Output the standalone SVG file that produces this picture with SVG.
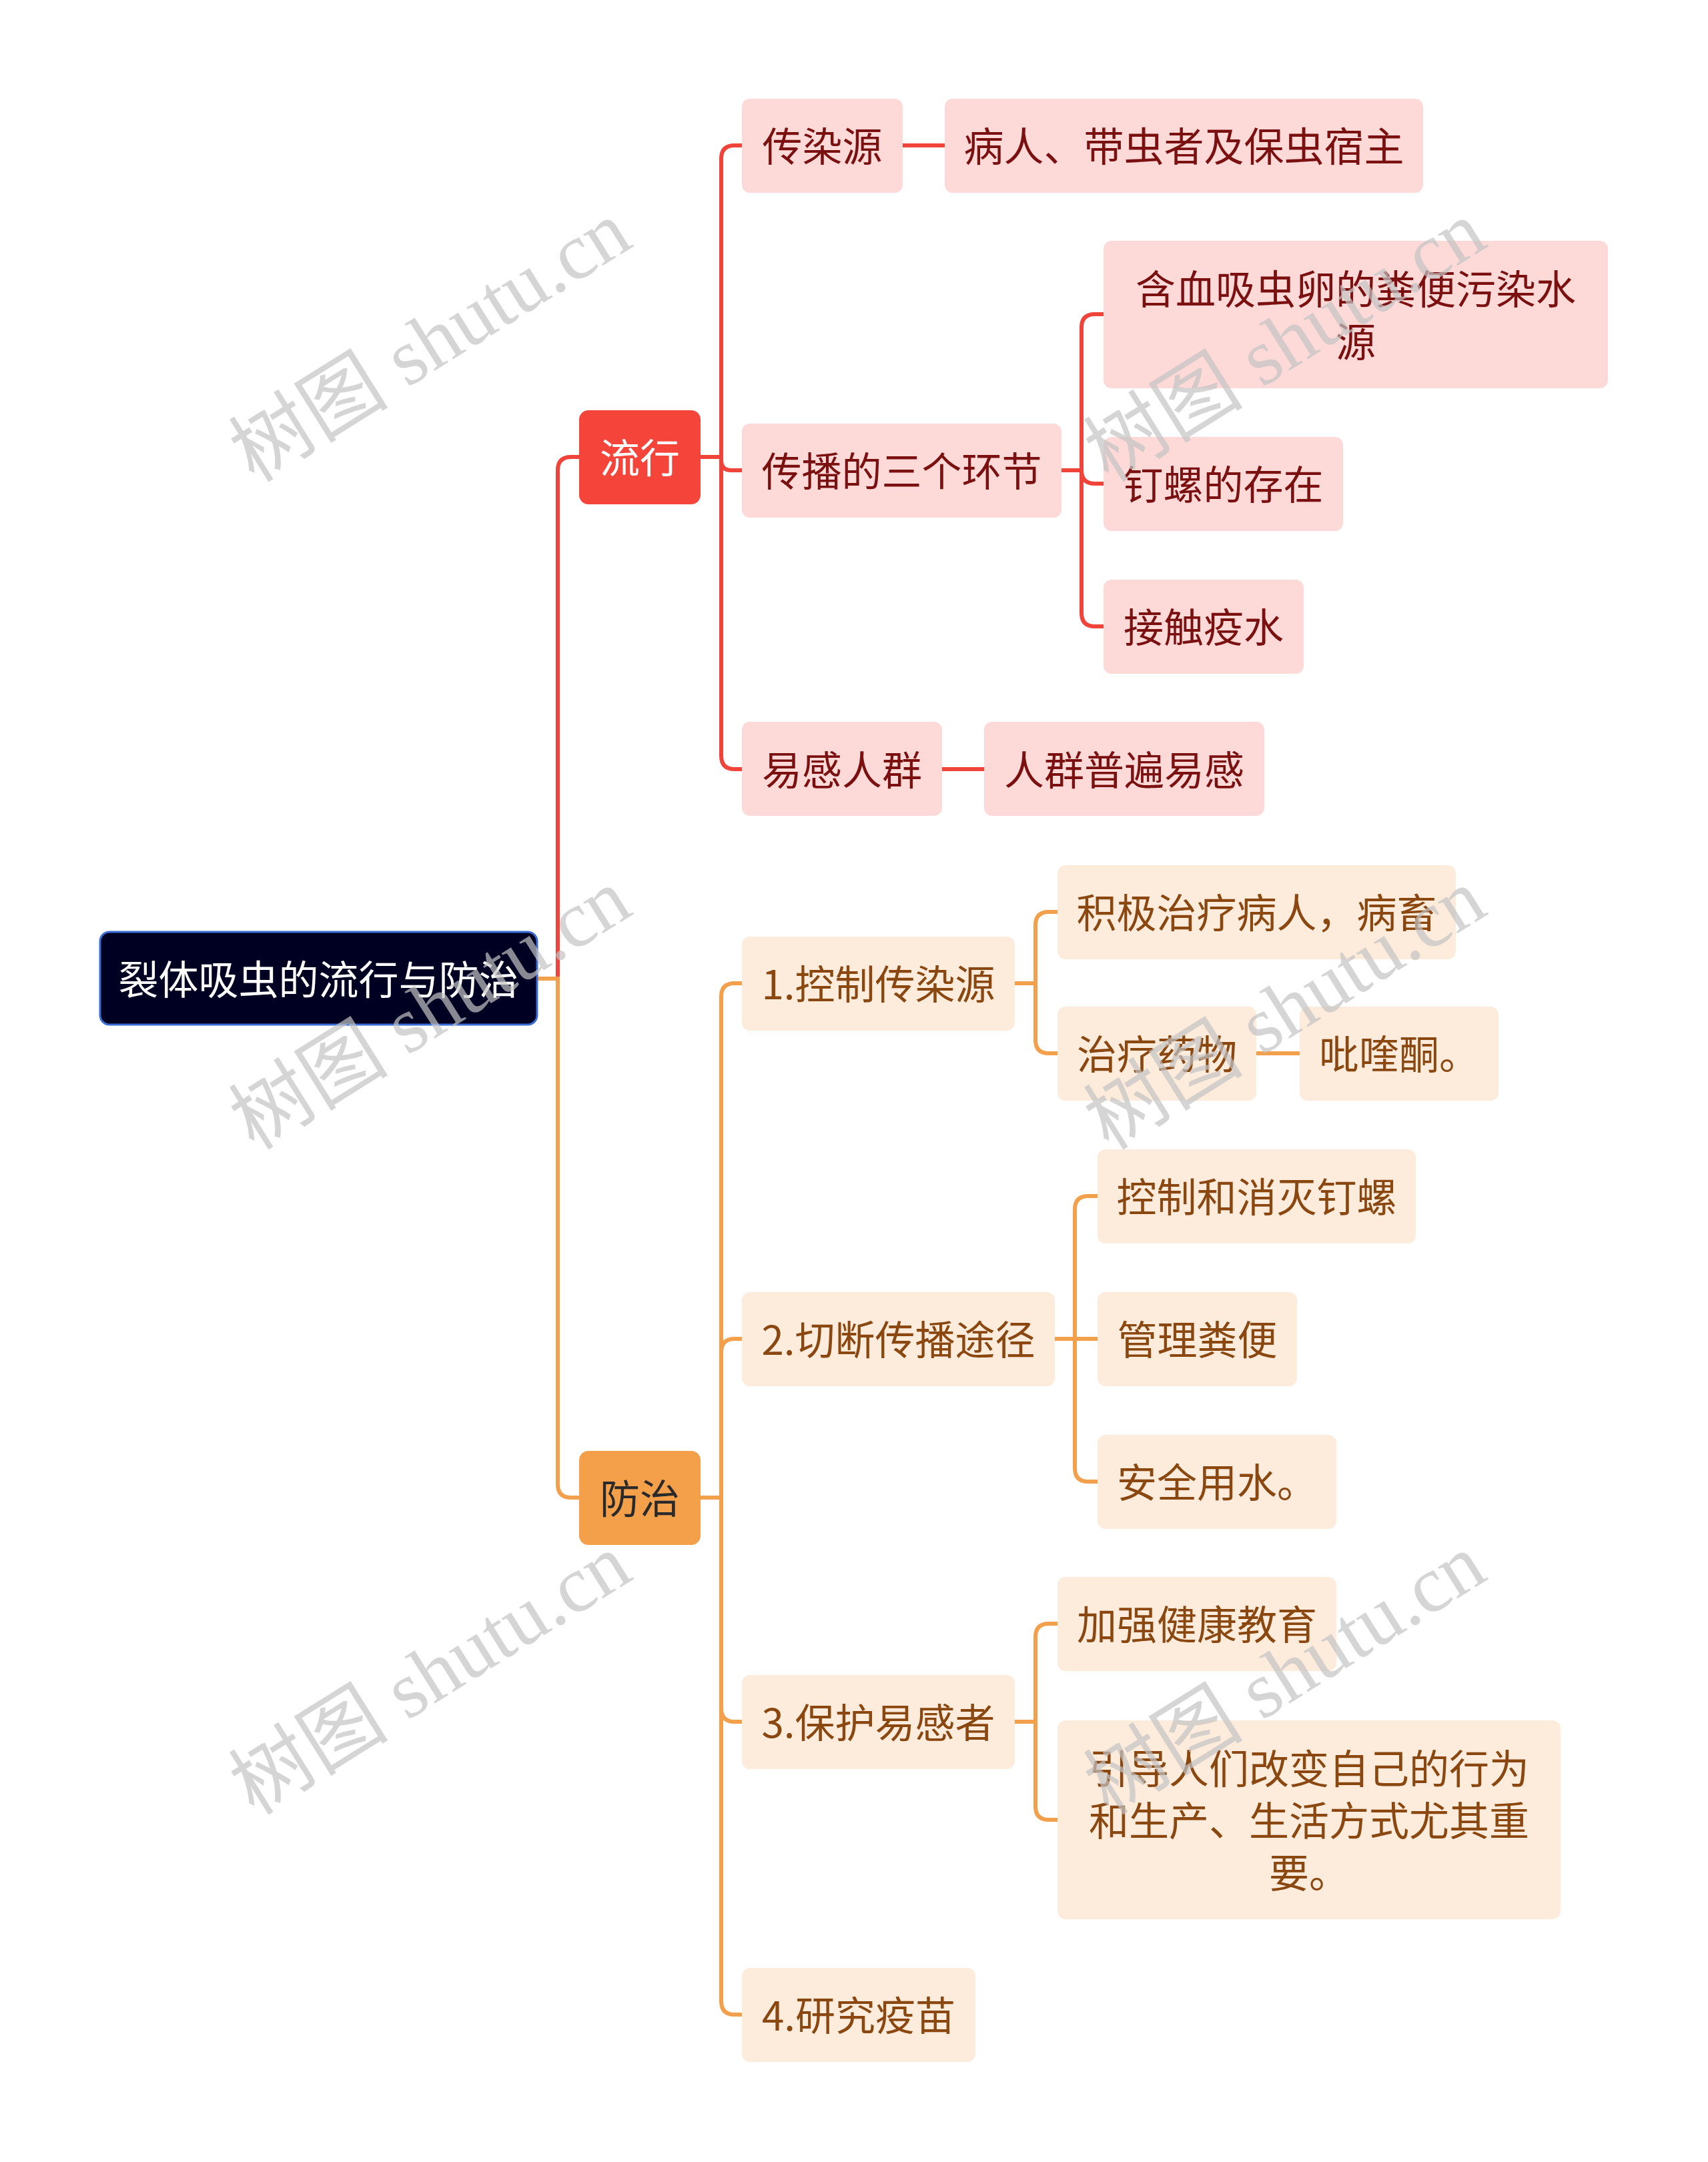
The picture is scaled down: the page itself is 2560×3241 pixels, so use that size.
<svg xmlns="http://www.w3.org/2000/svg" width="2560" height="3241" viewBox="0 0 2560 3241">
<style>
text{font-family:"Noto Sans CJK SC","Noto Sans",sans-serif;font-size:60px;text-anchor:middle;dominant-baseline:central}
.r{fill:#fdd9d8}
.rt{fill:#7b1010}
.o{fill:#fdebdc}
.ot{fill:#8a4710}
.lr{fill:none;stroke:#f0443a;stroke-width:6}
.lo{fill:none;stroke:#f3a04c;stroke-width:6}
.wm{font-family:"Liberation Serif","Noto Sans CJK SC",serif;font-size:120px;fill:#c4c4c4;opacity:0.7}
</style>
<rect width="2560" height="3241" fill="#ffffff"/>
<g id="connectors">
<path class="lr" d="M805 1467 H836 V705 Q836 685 856 685 H868"/>
<path class="lo" d="M805 1467 H836 V2225 Q836 2245 856 2245 H868"/>
<path class="lr" d="M1050 685 H1081 V238 Q1081 218 1101 218 H1112"/>
<path class="lr" d="M1050 685 H1081 V690 Q1081 705 1096 705 H1112"/>
<path class="lr" d="M1050 685 H1081 V1133 Q1081 1153 1101 1153 H1112"/>
<path class="lr" d="M1353 218 H1416"/>
<path class="lr" d="M1412 1153 H1475"/>
<path class="lr" d="M1591 705 H1621 V491 Q1621 471 1641 471 H1654"/>
<path class="lr" d="M1591 705 H1621 V705 Q1621 725 1641 725 H1654"/>
<path class="lr" d="M1591 705 H1621 V919 Q1621 939 1641 939 H1654"/>
<path class="lo" d="M1050 2245 H1081 V1494 Q1081 1474 1101 1474 H1112"/>
<path class="lo" d="M1050 2245 H1081 V2027 Q1081 2007 1101 2007 H1112"/>
<path class="lo" d="M1050 2245 H1081 V2561 Q1081 2581 1101 2581 H1112"/>
<path class="lo" d="M1050 2245 H1081 V3000 Q1081 3020 1101 3020 H1112"/>
<path class="lo" d="M1521 1474 H1552 V1387 Q1552 1367 1572 1367 H1585"/>
<path class="lo" d="M1521 1474 H1552 V1559 Q1552 1579 1572 1579 H1585"/>
<path class="lo" d="M1883 1579 H1948"/>
<path class="lo" d="M1581 2007 H1611 V1813 Q1611 1793 1631 1793 H1645"/>
<path class="lo" d="M1581 2007 H1645"/>
<path class="lo" d="M1581 2007 H1611 V2201 Q1611 2221 1631 2221 H1645"/>
<path class="lo" d="M1521 2581 H1552 V2454 Q1552 2434 1572 2434 H1585"/>
<path class="lo" d="M1521 2581 H1552 V2708 Q1552 2728 1572 2728 H1585"/>
</g>
<g id="root"><rect x="150" y="1397" width="655" height="139" rx="14" fill="#000022" stroke="#3b6fd6" stroke-width="3"/><text x="477.5" y="1464" fill="#ffffff">裂体吸虫的流行与防治</text></g>
<g id="liuxing"><rect x="868" y="615" width="182" height="141" rx="14" fill="#f5453b"/><text x="959" y="682" fill="#ffffff">流行</text></g>
<g id="fangzhi"><rect x="868" y="2175" width="182" height="141" rx="14" fill="#f4a04b"/><text x="959" y="2242" fill="#2a2a2a">防治</text></g>
<g id="n1"><rect class="r" x="1112" y="148" width="241" height="141" rx="12"/><text class="rt" x="1232.5" y="215">传染源</text></g>
<g id="n2"><rect class="r" x="1416" y="148" width="717" height="141" rx="12"/><text class="rt" x="1774.5" y="215">病人、带虫者及保虫宿主</text></g>
<g id="n3"><rect class="r" x="1112" y="635" width="479" height="141" rx="12"/><text class="rt" x="1351.5" y="702">传播的三个环节</text></g>
<g id="n4"><rect class="r" x="1654" y="361" width="756" height="221" rx="12"/><text class="rt" x="2032" y="429">含血吸虫卵的粪便污染水</text><text class="rt" x="2032" y="508">源</text></g>
<g id="n5"><rect class="r" x="1654" y="655" width="359" height="141" rx="12"/><text class="rt" x="1833.5" y="722">钉螺的存在</text></g>
<g id="n6"><rect class="r" x="1654" y="869" width="300" height="141" rx="12"/><text class="rt" x="1804" y="936">接触疫水</text></g>
<g id="n7"><rect class="r" x="1112" y="1082" width="300" height="141" rx="12"/><text class="rt" x="1262" y="1150">易感人群</text></g>
<g id="n8"><rect class="r" x="1475" y="1082" width="420" height="141" rx="12"/><text class="rt" x="1685" y="1150">人群普遍易感</text></g>
<g id="n9"><rect class="o" x="1112" y="1404" width="409" height="141" rx="12"/><text class="ot" x="1316.5" y="1471">1.控制传染源</text></g>
<g id="n10"><rect class="o" x="1585" y="1297" width="597" height="141" rx="12"/><text class="ot" x="1883.5" y="1364">积极治疗病人，病畜</text></g>
<g id="n11"><rect class="o" x="1585" y="1509" width="298" height="141" rx="12"/><text class="ot" x="1734" y="1576">治疗药物</text></g>
<g id="n12"><rect class="o" x="1948" y="1509" width="298" height="141" rx="12"/><text class="ot" x="2097" y="1576">吡喹酮。</text></g>
<g id="n13"><rect class="o" x="1112" y="1937" width="469" height="141" rx="12"/><text class="ot" x="1346.5" y="2004">2.切断传播途径</text></g>
<g id="n14"><rect class="o" x="1645" y="1723" width="477" height="141" rx="12"/><text class="ot" x="1883.5" y="1790">控制和消灭钉螺</text></g>
<g id="n15"><rect class="o" x="1645" y="1937" width="299" height="141" rx="12"/><text class="ot" x="1794.5" y="2004">管理粪便</text></g>
<g id="n16"><rect class="o" x="1645" y="2151" width="358" height="141" rx="12"/><text class="ot" x="1824" y="2218">安全用水。</text></g>
<g id="n17"><rect class="o" x="1112" y="2511" width="409" height="141" rx="12"/><text class="ot" x="1316.5" y="2578">3.保护易感者</text></g>
<g id="n18"><rect class="o" x="1585" y="2364" width="418" height="141" rx="12"/><text class="ot" x="1794" y="2431">加强健康教育</text></g>
<g id="n19"><rect class="o" x="1585" y="2579" width="754" height="298" rx="12"/><text class="ot" x="1962" y="2647">引导人们改变自己的行为</text><text class="ot" x="1962" y="2725">和生产、生活方式尤其重</text><text class="ot" x="1962" y="2803">要。</text></g>
<g id="n20"><rect class="o" x="1112" y="2950" width="350" height="141" rx="12"/><text class="ot" x="1287" y="3017">4.研究疫苗</text></g>
<g id="watermarks">
<text class="wm" transform="translate(645 512) rotate(-32)">树图 shutu.cn</text>
<text class="wm" transform="translate(1926 512) rotate(-32)">树图 shutu.cn</text>
<text class="wm" transform="translate(645 1513) rotate(-32)">树图 shutu.cn</text>
<text class="wm" transform="translate(1926 1513) rotate(-32)">树图 shutu.cn</text>
<text class="wm" transform="translate(645 2510) rotate(-32)">树图 shutu.cn</text>
<text class="wm" transform="translate(1926 2510) rotate(-32)">树图 shutu.cn</text>
</g>
</svg>
